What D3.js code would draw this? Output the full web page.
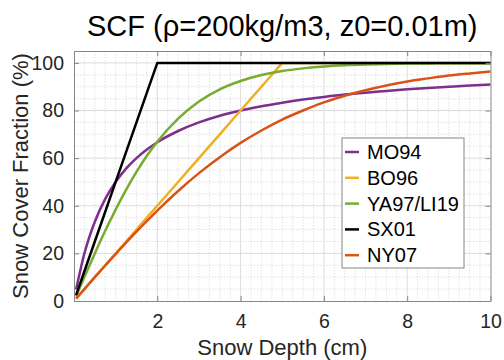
<!DOCTYPE html>
<html>
<head>
<meta charset="utf-8">
<script src="https://cdn.jsdelivr.net/npm/d3@7"></script>
<style>
body { margin: 0; background: #fff; }
svg { display: block; font-family: "Liberation Sans", Arial, sans-serif; }
.line { fill: none; stroke-width: 2.5px; stroke-linejoin: round; }
.axis text { fill: #262626; font-size: 19.5px; }
.axis path, .axis line { stroke: #868686; }
</style>
</head>
<body>
<script>
// snow depth (cm) sample points
var depth = [0.05, 0.25, 0.5, 0.75, 1, 1.25, 1.5, 1.75, 2, 2.5, 3, 3.5, 4, 4.5,
	5, 5.5, 6, 6.5, 7, 7.5, 8, 8.5, 9, 9.5, 10];

// snow cover fraction (%)
var mo94 = [4.8, 20.0, 33.3, 42.9, 50.0, 55.6, 60.0, 63.6, 66.7, 71.4, 75.0, 77.8, 80.0, 81.8,
	83.3, 84.6, 85.7, 86.7, 87.5, 88.2, 88.9, 89.5, 90.0, 90.5, 90.9];
var bo96 = [1, 5, 10, 15, 20, 25, 30, 35, 40, 50, 60, 70, 80, 90,
	100, 100, 100, 100, 100, 100, 100, 100, 100, 100, 100];
var ya97 = [2.0, 10.1, 20.0, 29.5, 38.4, 46.7, 54.2, 61.0, 66.9, 76.6, 83.8, 88.9, 92.4, 94.9,
	96.6, 97.7, 98.5, 99.0, 99.3, 99.5, 99.7, 99.8, 99.9, 99.9, 99.9];
var sx01 = [2.5, 12.5, 25, 37.5, 50, 62.5, 75, 87.5, 100, 100, 100, 100, 100, 100,
	100, 100, 100, 100, 100, 100, 100, 100, 100, 100, 100];
var ny07 = [1.0, 5.0, 10.0, 14.9, 19.7, 24.5, 29.1, 33.6, 38.0, 46.2, 53.7, 60.4, 66.4, 71.6,
	76.2, 80.0, 83.4, 86.2, 88.5, 90.5, 92.2, 93.5, 94.7, 95.6, 96.4];

var xTicks = [2, 4, 6, 8, 10];
var yTicks = [0, 20, 40, 60, 80, 100];

var series = [
	{ name: "MO94", values: mo94, color: "#7E2F8E", smooth: true },
	{ name: "BO96", values: bo96, color: "#EDB120", smooth: false },
	{ name: "YA97/LI19", values: ya97, color: "#77AC30", smooth: true },
	{ name: "SX01", values: sx01, color: "#000000", smooth: false },
	{ name: "NY07", values: ny07, color: "#D95319", smooth: true }
];

var margin = { top: 51, right: 13.5, bottom: 59, left: 74 };
var W = 504, H = 360;
var width = W - margin.left - margin.right;
var height = H - margin.top - margin.bottom;

var svg = d3.select("body").append("svg")
	.attr("width", W)
	.attr("height", H);

var g = svg.append("g")
	.attr("transform", "translate(" + margin.left + "," + margin.top + ")");

var x = d3.scaleLinear().domain([0, 10]).range([0, width]);
var y = d3.scaleLinear().domain([0, 105]).range([height, 0]);

// minor grid (dotted)
g.append("g").selectAll("line")
	.data(d3.range(0.25, 10, 0.25).filter(function(d) { return d % 2 != 0; }))
	.enter().append("line")
		.attr("x1", function(d) { return x(d); })
		.attr("x2", function(d) { return x(d); })
		.attr("y1", 0).attr("y2", height)
		.attr("stroke", "#e2e2e2")
		.attr("stroke-dasharray", "1.5,1.5");
g.append("g").selectAll("line")
	.data(d3.range(5, 105, 5).filter(function(d) { return d % 20 != 0; }))
	.enter().append("line")
		.attr("y1", function(d) { return y(d); })
		.attr("y2", function(d) { return y(d); })
		.attr("x1", 0).attr("x2", width)
		.attr("stroke", "#e2e2e2")
		.attr("stroke-dasharray", "1.5,1.5");

// major grid
g.append("g").selectAll("line")
	.data(xTicks.slice(0, -1))
	.enter().append("line")
		.attr("x1", function(d) { return x(d); })
		.attr("x2", function(d) { return x(d); })
		.attr("y1", 0).attr("y2", height)
		.attr("stroke", "#dcdcdc");
g.append("g").selectAll("line")
	.data(yTicks.slice(1))
	.enter().append("line")
		.attr("y1", function(d) { return y(d); })
		.attr("y2", function(d) { return y(d); })
		.attr("x1", 0).attr("x2", width)
		.attr("stroke", "#dcdcdc");

// curves
series.forEach(function(s) {
	var line = d3.line()
		.x(function(d, i) { return x(depth[i]); })
		.y(function(d) { return y(d); })
		.curve(s.smooth ? d3.curveMonotoneX : d3.curveLinear);
	g.append("path")
		.attr("class", "line")
		.attr("stroke", s.color)
		.attr("d", line(s.values));
});

// axes with inward ticks, box style
var tk = 5;
g.append("g")
	.attr("class", "axis")
	.attr("transform", "translate(0," + height + ")")
	.call(d3.axisBottom(x).tickValues(xTicks).tickSizeInner(-tk).tickSizeOuter(0).tickPadding(tk + 8));
g.append("g")
	.attr("class", "axis")
	.call(d3.axisTop(x).tickValues(xTicks).tickSizeInner(-tk).tickSizeOuter(0).tickFormat(""));
g.append("g")
	.attr("class", "axis")
	.call(d3.axisLeft(y).tickValues(yTicks).tickSizeInner(-tk).tickSizeOuter(0).tickPadding(tk + 5));
g.append("g")
	.attr("class", "axis")
	.attr("transform", "translate(" + width + ",0)")
	.call(d3.axisRight(y).tickValues(yTicks).tickSizeInner(-tk).tickSizeOuter(0).tickFormat(""));

g.selectAll(".axis .domain").attr("stroke", "#868686");

// titles
svg.append("text")
	.attr("x", margin.left + width / 2)
	.attr("y", 36)
	.attr("text-anchor", "middle")
	.attr("fill", "#000")
	.style("font-size", "29px")
	.text("SCF (\u03c1=200kg/m3, z0=0.01m)");

svg.append("text")
	.attr("x", margin.left + width / 2)
	.attr("y", 355)
	.attr("text-anchor", "middle")
	.attr("fill", "#262626")
	.style("font-size", "22px")
	.text("Snow Depth (cm)");

svg.append("text")
	.attr("transform", "translate(28," + (margin.top + height / 2) + ") rotate(-90)")
	.attr("text-anchor", "middle")
	.attr("fill", "#262626")
	.style("font-size", "22px")
	.text("Snow Cover Fraction (%)");

// legend
var lg = svg.append("g").attr("transform", "translate(342,138)");
lg.append("rect")
	.attr("width", 122).attr("height", 130)
	.attr("fill", "#fff")
	.attr("stroke", "#868686");
var item = lg.selectAll(".item")
	.data(series)
	.enter().append("g")
		.attr("transform", function(d, i) { return "translate(0," + (14 + i * 25.8) + ")"; });
item.append("line")
	.attr("x1", 3).attr("x2", 17)
	.attr("stroke", function(d) { return d.color; })
	.attr("stroke-width", 2.5);
item.append("text")
	.attr("x", 25)
	.attr("dy", "0.35em")
	.attr("fill", "#000")
	.style("font-size", "20px")
	.text(function(d) { return d.name; });
</script>
</body>
</html>
